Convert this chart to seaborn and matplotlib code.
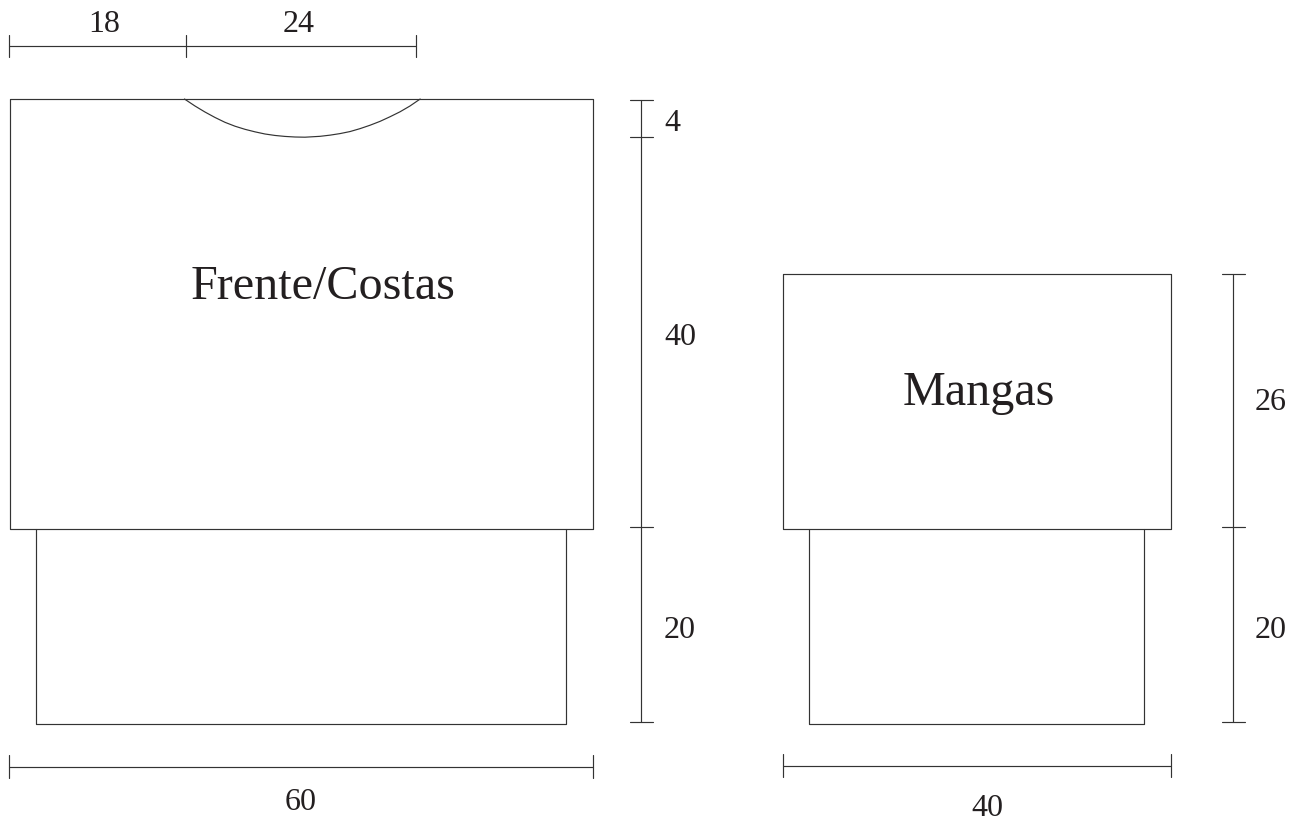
import numpy as np
import pandas as pd
import matplotlib
matplotlib.use('Agg')
import matplotlib.pyplot as plt
import seaborn as sns

# measurements in cm, as drawn on the schema
body_width = 60.05
body_height = 44.2
body_rib_width = 54.6
body_rib_height = 20.1
sleeve_width = 39.9
sleeve_height = 26.2
sleeve_rib_width = 34.5
sleeve_rib_height = 20.1
rib_inset = 2.7

top_dims = [18.2, 23.7]
body_side_dims = [3.85, 40.1, 20.05]
sleeve_side_dims = [25.95, 20.05]

# neckline
neck_x = [17.95, 19.03, 20.06, 21.09, 22.12, 23.15, 24.18, 25.21, 26.23, 27.26,
          28.29, 29.32, 30.35, 31.89, 32.92, 33.95, 34.98, 36.01, 37.04, 38.07,
          39.09, 40.12, 41.15, 42.2]
neck_y = [0.0, 0.72, 1.34, 1.9, 2.4, 2.8, 3.12, 3.38, 3.6, 3.75,
          3.85, 3.91, 3.93, 3.84, 3.72, 3.56, 3.35, 3.05, 2.7, 2.3,
          1.83, 1.32, 0.72, 0.0]

top_labels = ['18', '24']
body_side_labels = ['4', '40', '20']
sleeve_side_labels = ['26', '20']
width_labels = ['60', '40']

px_per_cm = 9.72
sleeve_x0 = 79.5
sleeve_y0 = 18.0
ink = '#333333'

sns.set_theme(style='white')
plt.rcParams['font.family'] = ['Liberation Serif', 'DejaVu Serif']

segments = []


def add_line(xs, ys):
    segments.append(pd.DataFrame({'x': xs, 'y': ys, 'seg': len(segments)}))


def add_panel(x0, y0, width, height, rib_width, rib_height):
    add_line([x0, x0 + width, x0 + width, x0, x0],
             [y0, y0, y0 + height, y0 + height, y0])
    rib_x = x0 + rib_inset
    rib_top = y0 + height
    add_line([rib_x, rib_x, rib_x + rib_width, rib_x + rib_width],
             [rib_top, rib_top + rib_height, rib_top + rib_height, rib_top])


def add_hdim(x0, y, lengths, tick=1.18):
    stops = x0 + np.concatenate([[0], np.cumsum(lengths)])
    add_line([stops[0], stops[-1]], [y, y])
    for s in stops:
        add_line([s, s], [y - tick, y + tick])


def add_vdim(x, y0, lengths, tick=1.18):
    stops = y0 + np.concatenate([[0], np.cumsum(lengths)])
    add_line([x, x], [stops[0], stops[-1]])
    for s in stops:
        add_line([x - tick, x + tick], [s, s])


# pieces
add_panel(-0.05, 0, body_width, body_height, body_rib_width, body_rib_height)
add_panel(sleeve_x0, sleeve_y0, sleeve_width, sleeve_height,
          sleeve_rib_width, sleeve_rib_height)
add_line(neck_x, neck_y)

# dimension lines
add_hdim(-0.1, -5.45, top_dims)
add_hdim(-0.1, 68.7, [body_width + 0.05])
add_hdim(sleeve_x0, 68.6, [sleeve_width])
add_vdim(64.95, 0.1, body_side_dims)
add_vdim(125.85, sleeve_y0 + 0.05, sleeve_side_dims)

df = pd.concat(segments, ignore_index=True)

fig = plt.figure(figsize=(13.01, 8.23), dpi=100)
ax = fig.add_axes([0, 0, 1, 1])
sns.lineplot(data=df, x='x', y='y', units='seg', estimator=None, sort=False,
             color=ink, linewidth=0.85, ax=ax)

ax.set_xlim(-10 / px_per_cm, (1301 - 10) / px_per_cm)
ax.set_ylim((823 - 99) / px_per_cm, -99 / px_per_cm)
ax.axis('off')


def put_text(text, px, py, size=23):
    ax.text((px - 10) / px_per_cm, (py - 99) / px_per_cm, text, fontsize=size,
            color='#231f20', ha='center', va='center')


put_text('Frente/Costas', 323.5, 287, size=34.7)
put_text('Mangas', 978.5, 393, size=34.7)
put_text(top_labels[0], 104, 24)
put_text(top_labels[1], 299, 24)
put_text(body_side_labels[0], 672, 123)
put_text(body_side_labels[1], 680, 337)
put_text(body_side_labels[2], 680, 630)
put_text(sleeve_side_labels[0], 1271, 402)
put_text(sleeve_side_labels[1], 1271, 630)
put_text(width_labels[0], 301, 802)
put_text(width_labels[1], 987, 808)

fig.savefig('out.png', dpi=100, facecolor='white')
